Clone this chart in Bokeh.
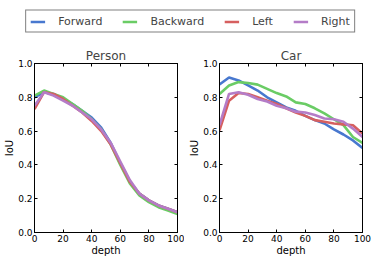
from bokeh.plotting import figure
from bokeh.layouts import column, row
from bokeh.models import LinearAxis, Legend, LegendItem, Range1d, FixedTicker
from bokeh.embed import file_html
from bokeh.resources import INLINE

depth = [0, 6.67, 13.33, 20, 26.67, 33.33, 40, 46.67, 53.33, 60, 66.67, 73.33, 80, 86.67, 93.33, 100]
series_names = ["Forward", "Backward", "Left", "Right"]
colors = ["#4878CF", "#6ACC65", "#D65F5F", "#B47CC7"]

person_forward = [0.80, 0.83, 0.82, 0.79, 0.76, 0.72, 0.68, 0.62, 0.53, 0.41, 0.30, 0.23, 0.19, 0.16, 0.14, 0.12]
person_backward = [0.81, 0.84, 0.82, 0.80, 0.76, 0.72, 0.67, 0.61, 0.52, 0.40, 0.29, 0.22, 0.18, 0.15, 0.13, 0.11]
person_left = [0.73, 0.83, 0.82, 0.79, 0.75, 0.71, 0.66, 0.60, 0.52, 0.41, 0.30, 0.23, 0.19, 0.16, 0.14, 0.12]
person_right = [0.75, 0.83, 0.81, 0.78, 0.75, 0.71, 0.67, 0.61, 0.53, 0.42, 0.31, 0.23, 0.19, 0.16, 0.14, 0.12]

car_forward = [0.876, 0.917, 0.90, 0.87, 0.84, 0.80, 0.77, 0.74, 0.72, 0.69, 0.665, 0.645, 0.61, 0.58, 0.545, 0.50]
car_backward = [0.82, 0.87, 0.89, 0.885, 0.875, 0.85, 0.825, 0.805, 0.77, 0.76, 0.735, 0.705, 0.67, 0.635, 0.565, 0.53]
car_left = [0.605, 0.78, 0.825, 0.82, 0.80, 0.78, 0.76, 0.735, 0.71, 0.69, 0.665, 0.655, 0.645, 0.64, 0.635, 0.585]
car_right = [0.635, 0.82, 0.83, 0.815, 0.79, 0.775, 0.75, 0.735, 0.715, 0.71, 0.695, 0.675, 0.67, 0.655, 0.615, 0.565]

x_ticks = [0, 20, 40, 60, 80, 100]
y_ticks = [0.0, 0.2, 0.4, 0.6, 0.8, 1.0]
FONT = "DejaVu Sans"


def style_axis(ax, labels=True):
    ax.major_tick_in = 3
    ax.major_tick_out = 0
    ax.minor_tick_in = 0
    ax.minor_tick_out = 0
    ax.axis_line_color = "black"
    ax.major_tick_line_color = "black"
    ax.major_label_text_font = FONT
    ax.major_label_text_font_size = "9px"
    ax.major_label_text_color = "black"
    ax.major_label_standoff = 2
    ax.axis_label_text_font = FONT
    ax.axis_label_text_font_size = "10px"
    ax.axis_label_text_font_style = "normal"
    ax.axis_label_text_color = "black"
    ax.axis_label_standoff = 0
    if not labels:
        ax.major_label_overrides = {t: "" for t in ax.ticker.ticks}
        ax.major_label_standoff = 0


def make_panel(title, data, width, bl, br):
    p = figure(width=width, height=218, output_backend="svg", toolbar_location=None,
               x_range=Range1d(0, 100), y_range=Range1d(0, 1),
               min_border_left=bl, min_border_right=br, min_border_top=21, min_border_bottom=28)
    p.title.text = title
    p.title.text_font = FONT
    p.title.text_font_size = "12px"
    p.title.text_font_style = "normal"
    p.title.align = "center"
    p.title.standoff = 2
    p.xgrid.visible = False
    p.ygrid.visible = False
    p.outline_line_color = "black"
    p.outline_line_alpha = 1
    p.background_fill_color = "white"
    p.border_fill_color = "white"
    p.xaxis.ticker = FixedTicker(ticks=x_ticks)
    p.yaxis.ticker = FixedTicker(ticks=y_ticks)
    p.xaxis.axis_label = "depth"
    p.yaxis.axis_label = "IoU"
    p.yaxis.major_label_overrides = {0.0: "0.0", 1.0: "1.0"}
    style_axis(p.xaxis[0])
    style_axis(p.yaxis[0])
    top = LinearAxis(ticker=FixedTicker(ticks=x_ticks))
    right = LinearAxis(ticker=FixedTicker(ticks=y_ticks))
    style_axis(top, labels=False)
    style_axis(right, labels=False)
    p.add_layout(top, "above")
    p.add_layout(right, "right")
    for ys, c in zip(data, colors):
        p.line(depth, ys, line_color=c, line_width=2.6)
    return p


p1 = make_panel("Person", [person_forward, person_backward, person_left, person_right], 184, 34, 7)
p2 = make_panel("Car", [car_forward, car_backward, car_left, car_right], 190, 35, 12)

leg = figure(width=374, height=42, output_backend="svg", toolbar_location=None,
             x_range=Range1d(0, 1), y_range=Range1d(0, 1),
             min_border=0, min_border_left=6, border_fill_color="white", background_fill_color="white")
leg.axis.visible = False
leg.xgrid.visible = False
leg.ygrid.visible = False
leg.outline_line_color = None
items = []
for name, c in zip(series_names, colors):
    r = leg.line([5, 6], [5, 6], line_color=c, line_width=2.6)
    items.append(LegendItem(label=name, renderers=[r]))
legend = Legend(items=items, orientation="horizontal", location="center",
                label_text_font=FONT, label_text_font_size="11px",
                glyph_width=15, glyph_height=12, label_standoff=13, spacing=20,
                padding=4, margin=0, label_width=0, label_height=12,
                border_line_color="black", border_line_width=1,
                background_fill_color="white")
leg.add_layout(legend, "center")

layout = column(leg, row(p1, p2, spacing=0), spacing=0)
open("out.html", "w").write(file_html(layout, INLINE))
